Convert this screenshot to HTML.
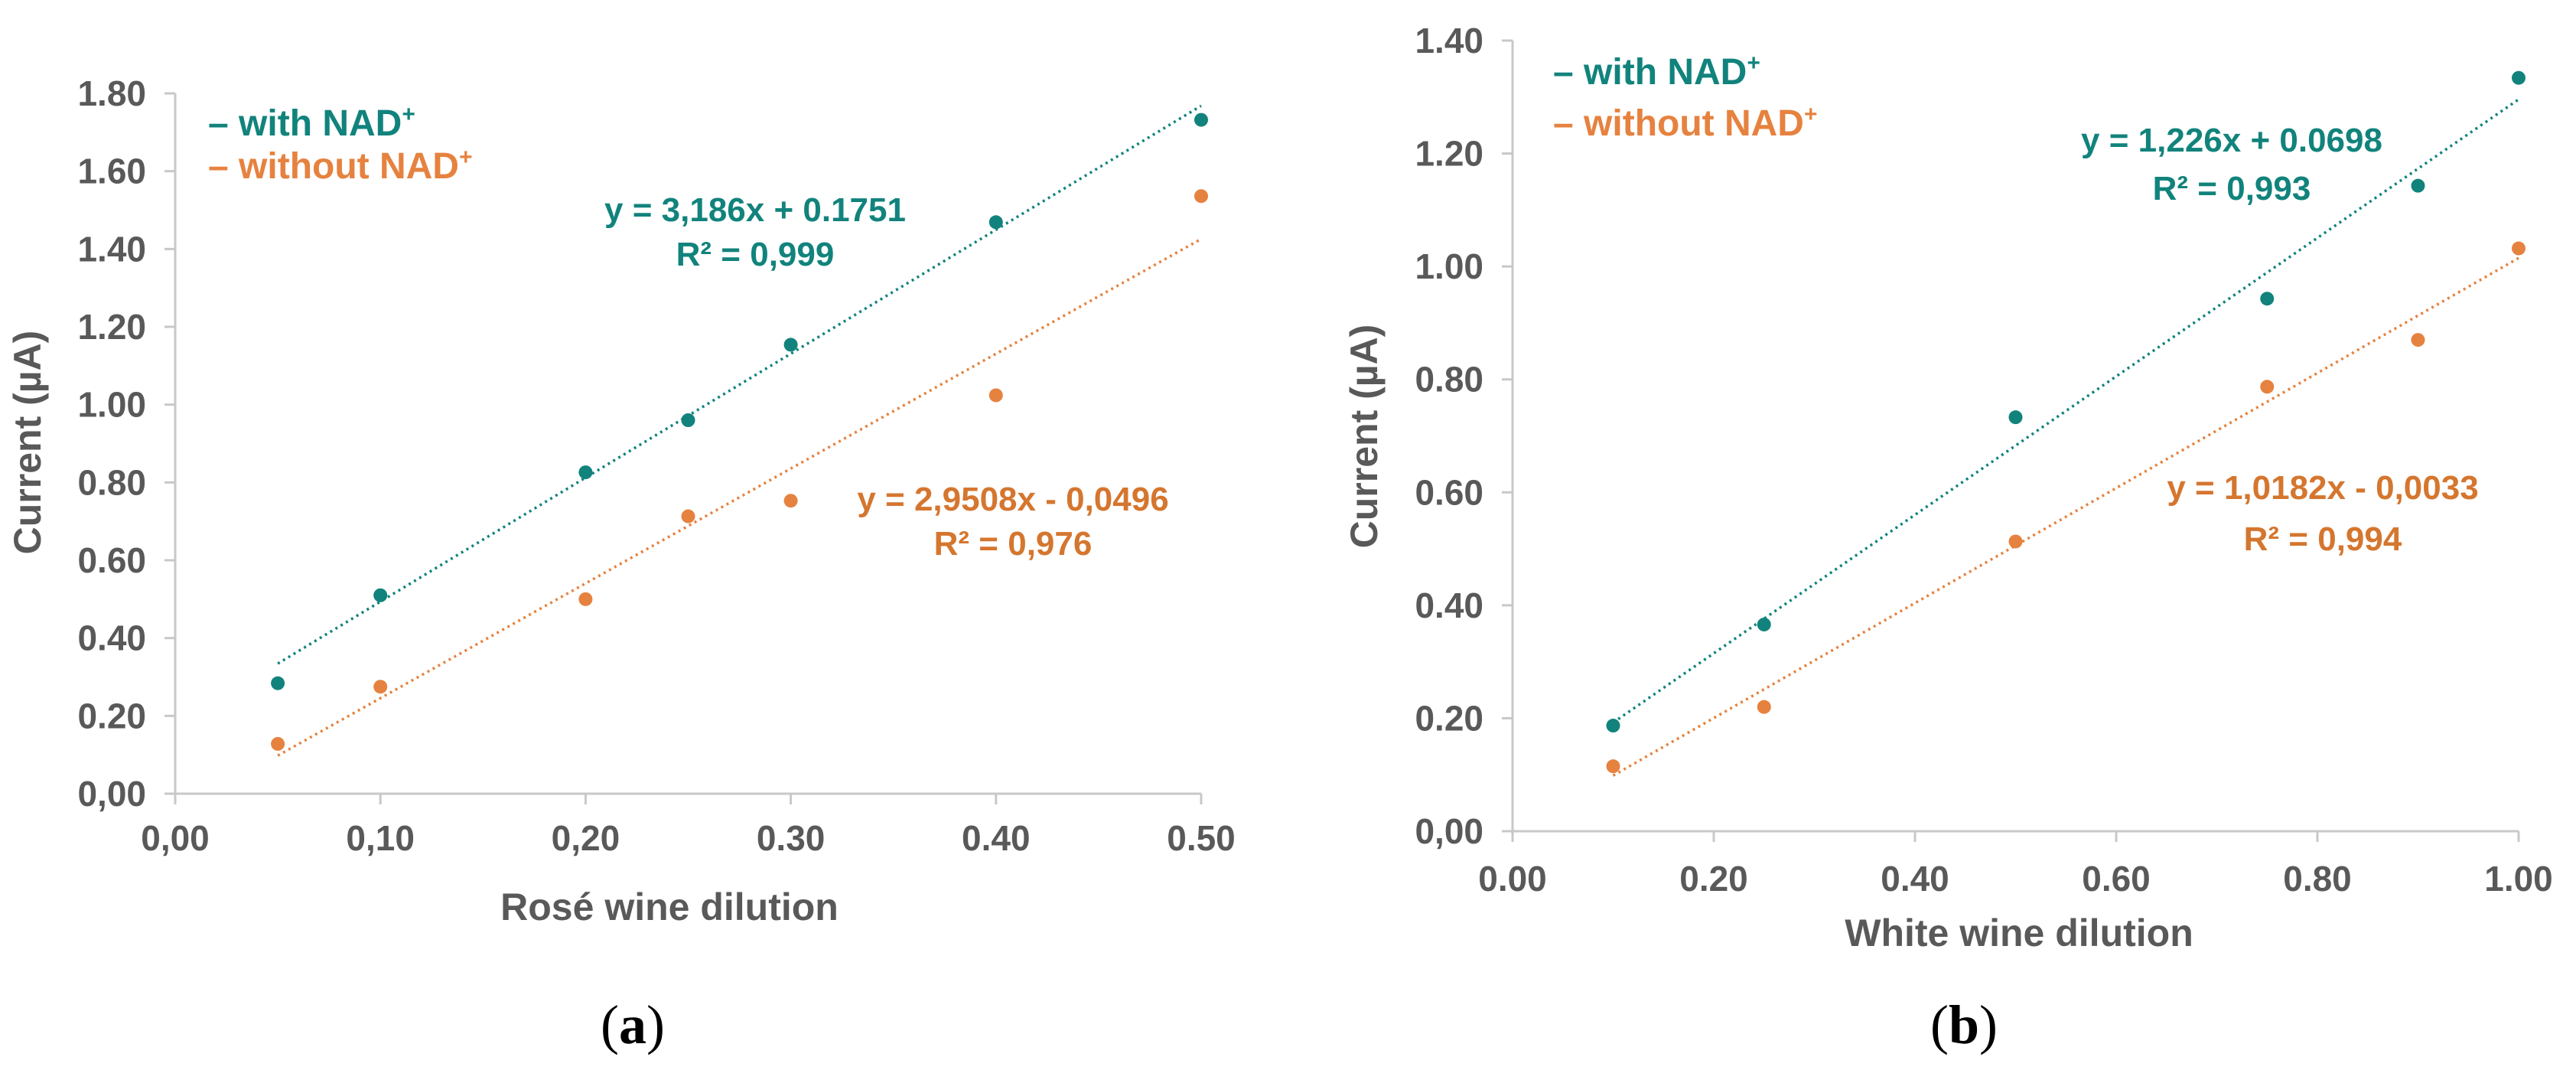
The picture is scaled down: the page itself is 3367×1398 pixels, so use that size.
<!DOCTYPE html>
<html><head><meta charset="utf-8"><style>
html,body{margin:0;padding:0;background:#fff;}
svg{display:block;}
text{font-family:"Liberation Sans",sans-serif;font-weight:bold;}
.tick{fill:#595959;font-size:46px;}
.ttl{fill:#595959;font-size:50px;}
.lab{font-family:"Liberation Serif",serif;font-weight:normal;font-size:72px;fill:#000;}
</style></head><body>
<svg id="chart" width="3367" height="1398" viewBox="0 0 3367 1398" xmlns="http://www.w3.org/2000/svg"></svg>
<script>
// Panel A data
const aX = [0.05, 0.10, 0.20, 0.25, 0.30, 0.40, 0.50];
const aWith = [0.284, 0.51, 0.826, 0.96, 1.154, 1.469, 1.732];
const aWithout = [0.128, 0.275, 0.50, 0.713, 0.753, 1.024, 1.536];
const aXTicks = [0, 0.1, 0.2, 0.3, 0.4, 0.5];
const aYTicks = [0, 0.2, 0.4, 0.6, 0.8, 1.0, 1.2, 1.4, 1.6, 1.8];
const aFitWith = [3.186, 0.1751];
const aFitWithout = [2.9508, -0.0496];
// Panel B data
const bX = [0.10, 0.25, 0.50, 0.75, 0.90, 1.00];
const bWith = [0.187, 0.366, 0.733, 0.943, 1.143, 1.334];
const bWithout = [0.115, 0.22, 0.513, 0.787, 0.870, 1.032];
const bXTicks = [0, 0.2, 0.4, 0.6, 0.8, 1.0];
const bYTicks = [0, 0.2, 0.4, 0.6, 0.8, 1.0, 1.2, 1.4];
const bFitWith = [1.226, 0.0698];
const bFitWithout = [1.0182, -0.0033];

const TEAL = '#11837c', ORANGE = '#e6823f', ORANGE_T = '#d5762f';
const svg = document.getElementById('chart');
const NS = 'http://www.w3.org/2000/svg';
function mk(tag, attrs, parent) {
  const e = document.createElementNS(NS, tag);
  for (const k in attrs) e.setAttribute(k, attrs[k]);
  (parent || svg).appendChild(e);
  return e;
}
function fmt(v, comma) { const s = v.toFixed(2); return comma ? s.replace('.', ',') : s; }

function panel(p) {
  const g = mk('g', {});
  
  
  const sx = v => p.x0 + (v - p.xmin) / (p.xmax - p.xmin) * (p.x1 - p.x0);
  const sy = v => p.y0 - v / p.ymax * (p.y0 - p.y1);
  // axes
  const ya = mk('line', {x1: p.x0, y1: p.y1, x2: p.x0, y2: p.y0, stroke: '#c8c8c8', 'stroke-width': 3}, g);
  
  
  const xa = mk('line', {x1: p.x0, y1: p.y0, x2: p.x1, y2: p.y0, stroke: '#c8c8c8', 'stroke-width': 3}, g);
  
  
  p.yTicks.forEach((v, i) => {
    const y = sy(v);
    mk('line', {x1: p.x0 - 14, y1: y, x2: p.x0, y2: y, stroke: '#c8c8c8', 'stroke-width': 3}, g);
    const t = mk('text', {x: p.x0 - 38, y: y + 16, 'text-anchor': 'end', class: 'tick'}, g);
    t.textContent = fmt(v, p.yComma[i]);
    
    
  });
  p.xTicks.forEach((v, i) => {
    const x = sx(v);
    mk('line', {x1: x, y1: p.y0, x2: x, y2: p.y0 + 14, stroke: '#c8c8c8', 'stroke-width': 3}, g);
    const t = mk('text', {x: x, y: p.xLabY, 'text-anchor': 'middle', class: 'tick'}, g);
    t.textContent = fmt(v, p.xComma[i]);
    
    
  });
  // trendlines
  [[p.fitW, TEAL, 'trendline-with-nad'], [p.fitWo, ORANGE, 'trendline-without-nad']].forEach(([f, c, n]) => {
    const xs = p.xs[0], xe = p.xs[p.xs.length - 1];
    const l = mk('line', {x1: sx(xs), y1: sy(f[0] * xs + f[1]), x2: sx(xe), y2: sy(f[0] * xe + f[1]), stroke: c, 'stroke-width': 3.5, 'stroke-dasharray': '3 5'}, g);
    
    
  });
  // points
  p.xs.forEach((x, i) => {
    const c1 = mk('circle', {cx: sx(x), cy: sy(p.wo[i]), r: 9, fill: ORANGE}, g);
    
    
    const c2 = mk('circle', {cx: sx(x), cy: sy(p.w[i]), r: 9, fill: TEAL}, g);
    
    
  });
  // legend
  const l1 = mk('text', {x: p.legX, y: p.legY1 + 17, 'font-size': 48, fill: TEAL}, g);
  l1.innerHTML = '\u2013 with NAD<tspan font-size="30" dy="-18">+</tspan>';
  
  
  const l2 = mk('text', {x: p.legX, y: p.legY2 + 17, 'font-size': 48, fill: ORANGE}, g);
  l2.innerHTML = '\u2013 without NAD<tspan font-size="30" dy="-18">+</tspan>';
  
  
  // equations
  p.eqs.forEach(e => {
    const t = mk('text', {x: e.x, y: e.y + 16, 'text-anchor': 'middle', 'font-size': 44, fill: e.c}, g);
    t.innerHTML = e.t;
    
    
  });
  // titles
  const xt = mk('text', {x: p.xtX, y: p.xtY + 18, 'text-anchor': 'middle', class: 'ttl'}, g);
  xt.textContent = p.xTitle;
  
  
  const yt = mk('text', {x: 0, y: 0, 'text-anchor': 'middle', class: 'ttl', transform: `translate(${p.ytX + 18},${p.ytY}) rotate(-90)`}, g);
  yt.textContent = 'Current (\u00b5A)';
  
  
  const pl = mk('text', {x: p.labX, y: p.labY + 24, 'text-anchor': 'middle', class: 'lab'}, g);
  pl.innerHTML = '(<tspan font-weight="bold">' + p.lab + '</tspan>)';
  
  
}

panel({name: 'panel-a-rose', x0: 229, x1: 1570, xmin: 0, xmax: 0.5, y0: 1037, y1: 122, ymax: 1.8,
  xs: aX, w: aWith, wo: aWithout, xTicks: aXTicks, yTicks: aYTicks, fitW: aFitWith, fitWo: aFitWithout,
  yComma: [1,0,0,0,0,0,0,0,0,0], xComma: [1,1,1,0,0,0], xLabY: 1111,
  legX: 272, legY1: 160, legY2: 216,
  eqs: [{x: 987, y: 273, c: TEAL, t: 'y = 3,186x + 0.1751', n: 'equation-with-nad'},
        {x: 987, y: 331, c: TEAL, t: 'R\u00b2 = 0,999', n: 'r2-with-nad'},
        {x: 1324, y: 651, c: ORANGE_T, t: 'y = 2,9508x - 0,0496', n: 'equation-without-nad'},
        {x: 1324, y: 709, c: ORANGE_T, t: 'R\u00b2 = 0,976', n: 'r2-without-nad'}],
  xTitle: 'Ros\u00e9 wine dilution', xtX: 875, xtY: 1184, ytX: 35, ytY: 578, labX: 827, labY: 1339, lab: 'a'});

panel({name: 'panel-b-white', x0: 1977, x1: 3292, xmin: 0, xmax: 1.0, y0: 1086, y1: 53, ymax: 1.4,
  xs: bX, w: bWith, wo: bWithout, xTicks: bXTicks, yTicks: bYTicks, fitW: bFitWith, fitWo: bFitWithout,
  yComma: [1,0,0,0,0,0,0,0], xComma: [0,0,0,0,0,0], xLabY: 1164,
  legX: 2030, legY1: 93, legY2: 160,
  eqs: [{x: 2917, y: 182, c: TEAL, t: 'y = 1,226x + 0.0698', n: 'equation-with-nad'},
        {x: 2917, y: 245, c: TEAL, t: 'R\u00b2 = 0,993', n: 'r2-with-nad'},
        {x: 3036, y: 636, c: ORANGE_T, t: 'y = 1,0182x - 0,0033', n: 'equation-without-nad'},
        {x: 3036, y: 703, c: ORANGE_T, t: 'R\u00b2 = 0,994', n: 'r2-without-nad'}],
  xTitle: 'White wine dilution', xtX: 2639, xtY: 1218, ytX: 1782, ytY: 570, labX: 2567, labY: 1339, lab: 'b'});
</script>
</body></html>
